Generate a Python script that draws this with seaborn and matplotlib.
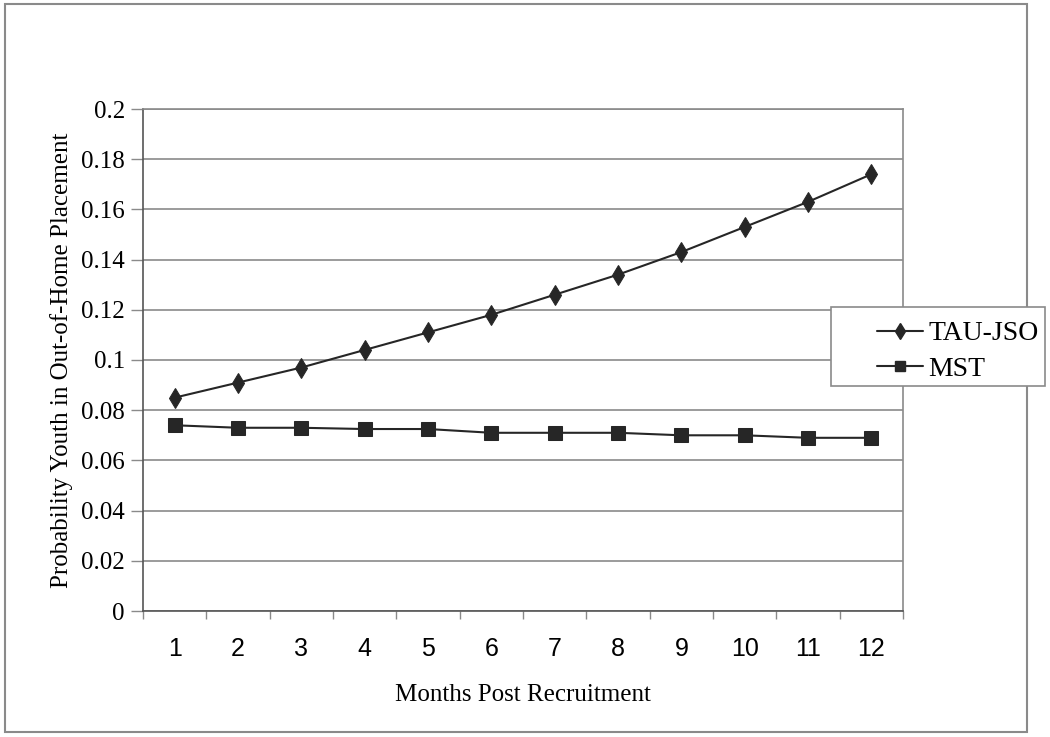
import pandas as pd
import seaborn as sns
import matplotlib.pyplot as plt
from matplotlib.patches import Rectangle
from matplotlib.lines import Line2D

months = list(range(1, 13))
tau_jso = [0.085, 0.091, 0.097, 0.104, 0.111, 0.118, 0.126, 0.134, 0.143, 0.153, 0.163, 0.174]
mst = [0.074, 0.073, 0.073, 0.0725, 0.0725, 0.071, 0.071, 0.071, 0.070, 0.070, 0.069, 0.069]
y_ticks = [0, 0.02, 0.04, 0.06, 0.08, 0.1, 0.12, 0.14, 0.16, 0.18, 0.2]
y_tick_labels = ["0", "0.02", "0.04", "0.06", "0.08", "0.1", "0.12", "0.14", "0.16", "0.18", "0.2"]

df = pd.DataFrame({
    "month": months * 2,
    "prob": tau_jso + mst,
    "group": ["TAU-JSO"] * 12 + ["MST"] * 12,
})

sns.set_style("white")
plt.rcParams["font.family"] = ["Liberation Serif", "DejaVu Serif"]
plt.rcParams["text.color"] = "black"
plt.rcParams["axes.labelcolor"] = "black"
plt.rcParams["xtick.labelcolor"] = "black"
plt.rcParams["ytick.labelcolor"] = "black"

ink = "#262626"
grid = "#8a8a8a"

fig = plt.figure(figsize=(10.5, 7.37), dpi=100)
ax = fig.add_axes([143 / 1050, 126 / 737, 760 / 1050, 502 / 737])

sns.lineplot(
    data=df, x="month", y="prob", hue="group", style="group",
    markers={"TAU-JSO": "d", "MST": "s"}, dashes=False,
    palette={"TAU-JSO": ink, "MST": ink},
    markersize=10, linewidth=1.5, markeredgecolor=ink,
    legend=False, ax=ax,
)

ax.set_xlim(0.5, 12.5)
ax.set_ylim(0, 0.2)
ax.set_yticks(y_ticks)
ax.set_yticklabels(y_tick_labels, fontsize=18)
ax.yaxis.grid(True, color=grid, linewidth=1.2)
ax.set_axisbelow(True)

# category boundaries as major ticks, month labels on minor ticks
ax.set_xticks([m - 0.5 for m in months] + [12.5])
ax.set_xticklabels([])
ax.set_xticks(months, minor=True)
ax.set_xticklabels([str(m) for m in months], minor=True,
                   fontsize=18, family="Liberation Sans")
ax.tick_params(axis="x", which="major", length=6, width=1, color=grid, direction="out")
ax.tick_params(axis="x", which="minor", length=0, pad=19)
ax.tick_params(axis="y", length=9, width=1, color=grid, direction="out", pad=4)
ax.xaxis.set_ticks_position("bottom")
ax.yaxis.set_ticks_position("left")

for s in ax.spines.values():
    s.set_visible(True)
    s.set_color(grid)
    s.set_linewidth(1.2)
ax.spines["left"].set_color("#555555")
ax.spines["bottom"].set_color("#555555")

ax.set_xlabel("Months Post Recruitment", fontsize=18, labelpad=16)
ax.set_ylabel("Probability Youth in Out-of-Home Placement", fontsize=18, labelpad=6)

# outer chart border
fig.patches.append(Rectangle((5 / 1050, 5 / 737), 1022 / 1050, 728 / 737,
                             transform=fig.transFigure, fill=False,
                             edgecolor=grid, linewidth=1.5))

# legend box drawn separately so the entries can sit to its right side
fig.patches.append(Rectangle((831 / 1050, 1 - 386 / 737), 214 / 1050, 79 / 737,
                             transform=fig.transFigure, facecolor="white",
                             edgecolor=grid, linewidth=1.2, zorder=3))
handles = [
    Line2D([], [], color=ink, marker="d", markersize=8, linewidth=1.5),
    Line2D([], [], color=ink, marker="s", markersize=6.5, linewidth=1.5),
]
leg = fig.legend(handles, ["TAU-JSO", "MST"], loc="upper left",
                 bbox_to_anchor=(877 / 1050, 1 - 321 / 737),
                 fontsize=20, frameon=False,
                 handlelength=1.65, handletextpad=0.2, borderpad=0,
                 labelspacing=0.35, borderaxespad=0)
leg.set_zorder(4)

fig.savefig("out.png", dpi=100)
